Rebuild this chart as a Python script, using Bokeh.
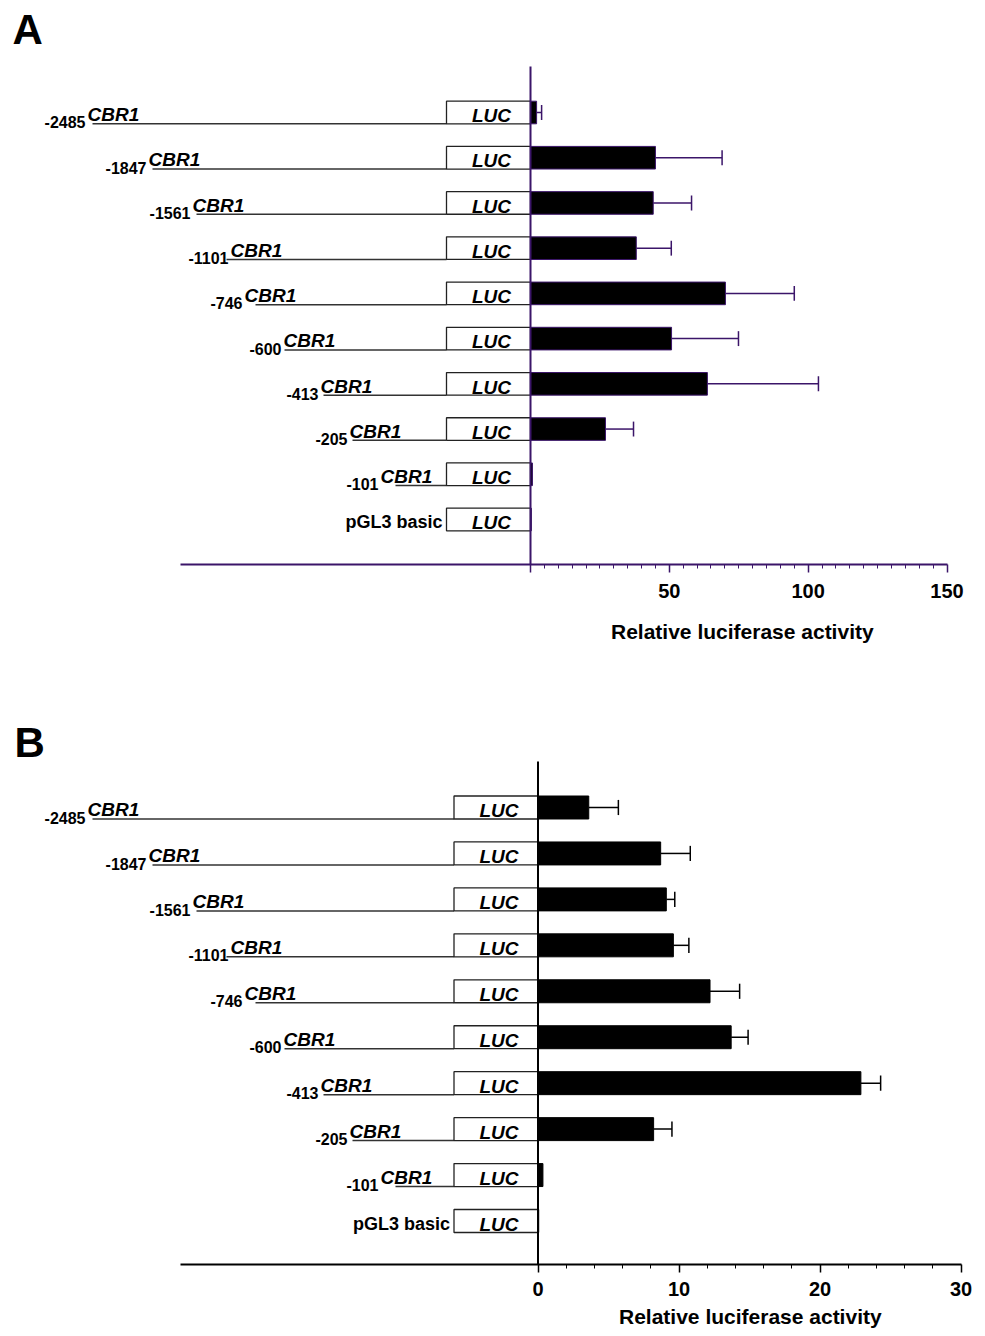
from bokeh.plotting import figure
from bokeh.models import Range1d, FixedTicker, Title
from bokeh.layouts import column
from bokeh.embed import file_html
from bokeh.resources import INLINE
from bokeh.core.properties import value

# ---------------- data ----------------
constructs = ["-2485", "-1847", "-1561", "-1101", "-746", "-600", "-413", "-205", "-101", "pGL3 basic"]
gene = "CBR1"
reporter = "LUC"
activity_a = [2.2, 45.0, 44.2, 38.1, 70.2, 50.8, 63.7, 27.0, 0.7, 0.3]
error_a = [1.8, 24.0, 13.8, 12.6, 24.8, 24.1, 40.0, 10.1, 0.0, 0.0]
activity_b = [3.6, 8.7, 9.1, 9.6, 12.2, 13.7, 22.9, 8.2, 0.35, 0.05]
error_b = [2.1, 2.1, 0.6, 1.1, 2.1, 1.2, 1.4, 1.3, 0.0, 0.0]
ticks_a = [0, 50, 100, 150]
ticks_b = [0, 10, 20, 30]
axis_title = "Relative luciferase activity"
panel_letters = ["A", "B"]

# ---------------- layout (page pixels) ----------------
gene_left_px = [87, 148, 192, 230, 244, 283, 320, 349, 380]
line_start_px = [92, 152, 196, 226, 255, 284, 323, 352, 395]
FONT = "Liberation Sans"
WIDTH = 980
FRAME_RIGHT = 962


def drift(fs):
    # baseline correction (px, upward) for svg text of font size fs
    return 0.27 * fs


def make_panel(letter, letter_pos, means, errs, ticks, minor_step, show_zero, color,
               zero_px, ppx, axis_left_px,
               canvas_top, height, line_top, frame_bottom, row1_px, row10_px,
               title_center_px, title_standoff, label_standoff):
    n = len(constructs)
    ppy = (row10_px - row1_px) / (n - 1)

    def X(px):
        return (px - zero_px) / ppx

    def Y(px):
        return 1 + (row10_px - px) / ppy

    p = figure(width=WIDTH, height=height,
               x_range=Range1d(X(0), X(FRAME_RIGHT)),
               y_range=Range1d(Y(frame_bottom), Y(canvas_top)),
               output_backend="svg", toolbar_location=None,
               y_axis_location=None,
               min_border_left=0, min_border_right=WIDTH - FRAME_RIGHT,
               min_border_top=0,
               min_border_bottom=height - (frame_bottom - canvas_top))
    p.outline_line_color = None
    p.xgrid.visible = False
    p.ygrid.visible = False

    ys = [n - i for i in range(n)]
    bw = 84 / ppx  # LUC box width in data units

    def up(px, fs):
        return (px + drift(fs)) / ppy

    # promoter lines
    ly = [ys[i] - 0.25 for i in range(n - 1)]
    p.segment(x0=[X(v) for v in line_start_px], y0=ly, x1=[-bw] * (n - 1), y1=ly,
              line_color="#333333", line_width=1.5)
    # LUC boxes
    p.quad(left=[-bw] * n, right=[0] * n, bottom=[y - 0.25 for y in ys], top=[y + 0.25 for y in ys],
           fill_color="white", line_color="#222222", line_width=1.3)
    p.text(x=[-bw / 2 + 3 / ppx] * n, y=[y - 0.25 + up(3, 19) for y in ys], text=[reporter] * n,
           text_align="center", text_baseline="alphabetic",
           text_font=value(FONT), text_font_style="bold italic", text_font_size="19px",
           text_color="black")
    # gene names
    p.text(x=[X(v) for v in gene_left_px], y=[y + up(4, 19) for y in ly], text=[gene] * (n - 1),
           text_align="left", text_baseline="alphabetic",
           text_font=value(FONT), text_font_style="bold italic", text_font_size="19px",
           text_color="black")
    # promoter positions
    p.text(x=[X(v - 2) for v in gene_left_px], y=[y + up(-3, 16) for y in ly], text=constructs[:-1],
           text_align="right", text_baseline="alphabetic",
           text_font=value(FONT), text_font_style="bold", text_font_size="16px",
           text_color="black")
    # empty vector
    p.text(x=[-bw - 4 / ppx], y=[ys[-1] - 0.25 + up(4, 18)], text=[constructs[-1]],
           text_align="right", text_baseline="alphabetic",
           text_font=value(FONT), text_font_style="bold", text_font_size="18px",
           text_color="black")

    # bars
    p.hbar(y=ys, left=0, right=means, height=0.5, fill_color="black",
           line_color=color, line_width=1)
    # error bars (upper only)
    ey = [ys[i] for i in range(n) if errs[i] > 0]
    em = [means[i] for i in range(n) if errs[i] > 0]
    ee = [means[i] + errs[i] for i in range(n) if errs[i] > 0]
    p.segment(x0=em, y0=ey, x1=ee, y1=ey, line_color=color, line_width=1.5)
    p.segment(x0=ee, y0=[y - 0.165 for y in ey], x1=ee, y1=[y + 0.165 for y in ey],
              line_color=color, line_width=1.5)

    # vertical zero line (value axis origin)
    p.segment(x0=[0], y0=[Y(frame_bottom)], x1=[0], y1=[Y(line_top)],
              line_color=color, line_width=2)

    # panel letter
    p.text(x=[X(letter_pos[0])], y=[Y(letter_pos[1] - drift(42))], text=[letter],
           text_align="left", text_baseline="alphabetic",
           text_font=value(FONT), text_font_size="42px", text_font_style="bold",
           text_color="black")

    # x axis
    ax = p.xaxis[0]
    ax.bounds = (X(axis_left_px), ticks[-1])
    minor = []
    v = minor_step
    while v < ticks[-1]:
        if all(abs(v - t) > 1e-9 for t in ticks):
            minor.append(v)
        v += minor_step
    ax.ticker = FixedTicker(ticks=ticks, minor_ticks=minor)
    if not show_zero:
        ax.major_label_overrides = {0: ""}
    ax.axis_line_color = color
    ax.axis_line_width = 2
    ax.major_tick_line_color = color
    ax.major_tick_line_width = 1.5
    ax.major_tick_out = 8
    ax.major_tick_in = 0
    ax.minor_tick_line_color = color
    ax.minor_tick_line_width = 1
    ax.minor_tick_out = 4
    ax.minor_tick_in = 0
    ax.major_label_text_font = FONT
    ax.major_label_text_font_style = "bold"
    ax.major_label_text_font_size = "20px"
    ax.major_label_text_color = "black"
    ax.major_label_standoff = label_standoff

    est_w = 263
    t = Title(text=axis_title, align="left", offset=title_center_px - est_w / 2,
              text_font=FONT, text_font_size="21px", text_font_style="bold",
              text_color="black", standoff=title_standoff)
    p.add_layout(t, "below")
    return p


pa = make_panel(panel_letters[0], (12, 40), activity_a, error_a, ticks_a, 5, False, "#3b1569",
                zero_px=530, ppx=2.7767, axis_left_px=180,
                canvas_top=0, height=687, line_top=66, frame_bottom=564,
                row1_px=112, row10_px=519,
                title_center_px=742, title_standoff=34, label_standoff=11)
pb = make_panel(panel_letters[1], (14, 753), activity_b, error_b, ticks_b, 2, True, "black",
                zero_px=537.5, ppx=14.1, axis_left_px=180,
                canvas_top=687, height=649, line_top=761, frame_bottom=1264,
                row1_px=807, row10_px=1220.5,
                title_center_px=750, title_standoff=8, label_standoff=9)

layout = column(pa, pb, spacing=0)
open("out.html", "w").write(file_html(layout, INLINE))
